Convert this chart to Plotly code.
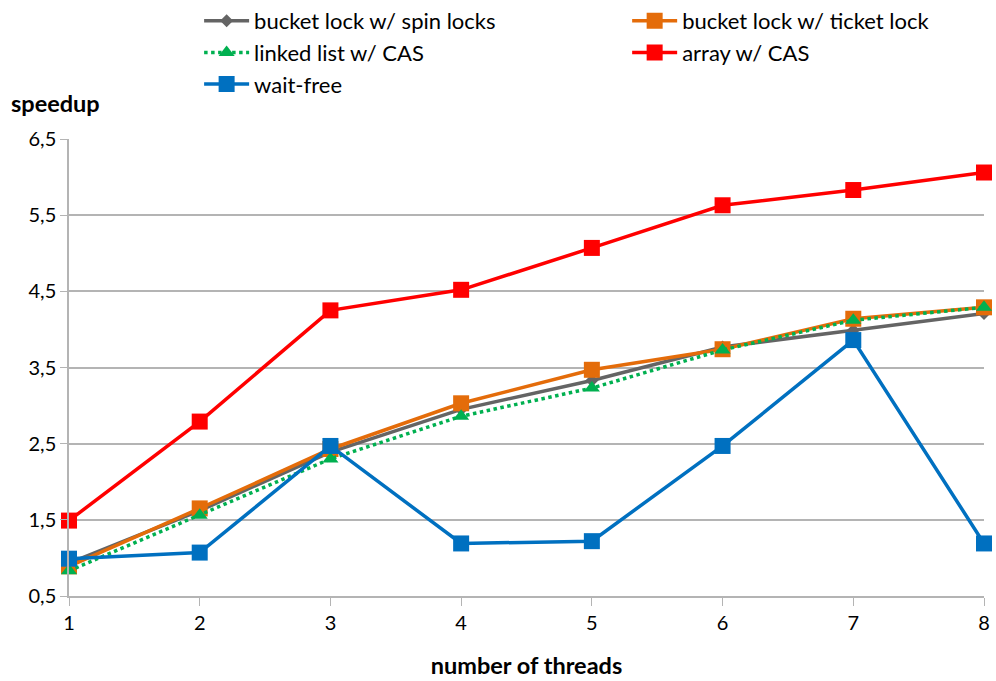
import plotly.graph_objects as go

threads = [1, 2, 3, 4, 5, 6, 7, 8]

spin_locks = [0.93, 1.62, 2.39, 2.95, 3.33, 3.77, 3.99, 4.21]
ticket_lock = [0.89, 1.65, 2.43, 3.03, 3.47, 3.74, 4.14, 4.29]
linked_list_cas = [0.83, 1.56, 2.30, 2.86, 3.23, 3.73, 4.12, 4.29]
array_cas = [1.49, 2.79, 4.25, 4.52, 5.07, 5.63, 5.83, 6.06]
wait_free = [0.99, 1.07, 2.47, 1.19, 1.22, 2.47, 3.86, 1.19]

y_ticks = [0.5, 1.5, 2.5, 3.5, 4.5, 5.5, 6.5]

FONT = "Lato"
GRID = "#b4b4b4"

# name, values, colour, marker symbol, marker size, dash, legend column
series = [
    ("bucket lock w/ spin locks", spin_locks, "#646464", "diamond", 10, "solid", "legend"),
    ("bucket lock w/ ticket lock", ticket_lock, "#e46c0a", "square", 16, "solid", "legend2"),
    ("linked list w/ CAS", linked_list_cas, "#00b050", "triangle-up", 14, "dot", "legend"),
    ("array w/ CAS", array_cas, "#ff0000", "square", 16, "solid", "legend2"),
    ("wait-free", wait_free, "#0070c0", "square", 16, "solid", "legend"),
]

fig = go.Figure()
for name, vals, color, symbol, size, dash, leg in series:
    fig.add_trace(go.Scatter(
        x=threads, y=vals, name=name, mode="lines+markers",
        line=dict(color=color, width=3.5, dash=dash),
        marker=dict(color=color, symbol=symbol, size=size, line=dict(width=0)),
        cliponaxis=False, legend=leg,
    ))

legend_style = dict(
    orientation="v", xanchor="left", yanchor="top",
    yref="container", y=1.013,
    font=dict(family=FONT, size=22), itemwidth=45,
    bgcolor="rgba(0,0,0,0)", traceorder="normal",
)

fig.update_layout(
    width=996, height=681,
    margin=dict(l=69, r=6, t=139, b=84),
    paper_bgcolor="white", plot_bgcolor="white",
    separators=",.",
    font=dict(family=FONT, size=20, color="#000000"),
    showlegend=True,
    legend=dict(x=0.1422, **legend_style),
    legend2=dict(x=0.610, **legend_style),
    xaxis=dict(
        range=[1, 8], tickvals=threads, showgrid=False,
        showline=True, linecolor=GRID, linewidth=1.5,
        ticks="outside", ticklen=8, tickcolor=GRID,
        tickfont=dict(family=FONT, size=20), zeroline=False,
        title=dict(text="<b>number of threads</b>", font=dict(family=FONT, size=23.5), standoff=25),
    ),
    yaxis=dict(
        range=[0.5, 6.5], tickvals=y_ticks, tickformat=".1f",
        showgrid=True, gridcolor=GRID, gridwidth=1.5,
        showline=True, linecolor=GRID, linewidth=1.5,
        ticks="outside", ticklen=7, tickcolor=GRID,
        tickfont=dict(family=FONT, size=20), zeroline=False,
    ),
    annotations=[dict(
        text="<b>speedup</b>", xref="paper", yref="paper",
        x=-60 / 921, y=1 + 36 / 458, xanchor="left", yanchor="middle",
        showarrow=False, font=dict(family=FONT, size=23.5),
    )],
)

fig.write_html("out.html")
